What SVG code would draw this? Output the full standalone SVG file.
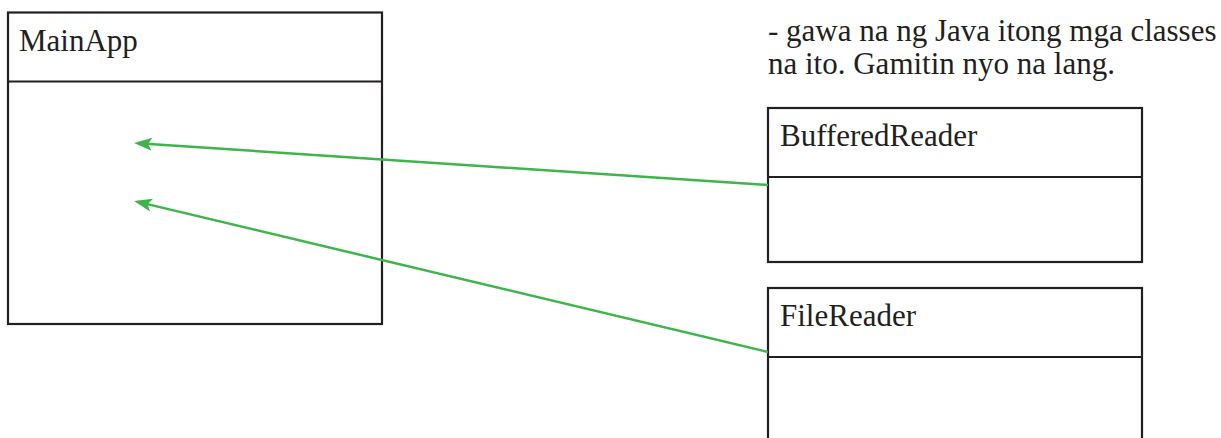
<svg xmlns="http://www.w3.org/2000/svg" width="1221" height="438" viewBox="0 0 1221 438">
<style>
.box{fill:#ffffff;stroke:#231f20;stroke-width:2.2}
.div{stroke:#231f20;stroke-width:2.2}
.lbl{font-family:"Liberation Serif","Times New Roman",serif;font-size:31px;fill:#231f20}
.conn{fill:none;stroke:#3db54a;stroke-width:2.5}
</style>
<defs>
<marker id="arr" markerUnits="userSpaceOnUse" viewBox="-20 -8 28 16" refX="0" refY="0" markerWidth="28" markerHeight="16" orient="auto">
<path d="M4,0 L-14,-6.5 L-10,0 L-14,6.5 Z" fill="#3db54a"/>
</marker>
</defs>
<rect width="1221" height="438" fill="#ffffff"/>
<text class="lbl" x="768" y="41">- gawa na ng Java itong mga classes</text>
<text class="lbl" x="768" y="74">na ito. Gamitin nyo na lang.</text>
<g id="MainApp">
<rect class="box" x="8" y="12.5" width="374" height="311.5"/>
<line class="div" x1="8" y1="81.5" x2="382" y2="81.5"/>
<text class="lbl" x="19" y="51">MainApp</text>
</g>
<g id="BufferedReader">
<rect class="box" x="768" y="108" width="374" height="154"/>
<line class="div" x1="768" y1="177" x2="1142" y2="177"/>
<text class="lbl" x="780" y="146">BufferedReader</text>
</g>
<g id="FileReader">
<rect class="box" x="768" y="288" width="374" height="200"/>
<line class="div" x1="768" y1="357" x2="1142" y2="357"/>
<text class="lbl" x="780" y="326">FileReader</text>
</g>
<g id="connectors">
<path class="conn" d="M768,185 L138,143.3" marker-end="url(#arr)"/>
<path class="conn" d="M768,352 L137.9,201.9" marker-end="url(#arr)"/>
</g>
</svg>
